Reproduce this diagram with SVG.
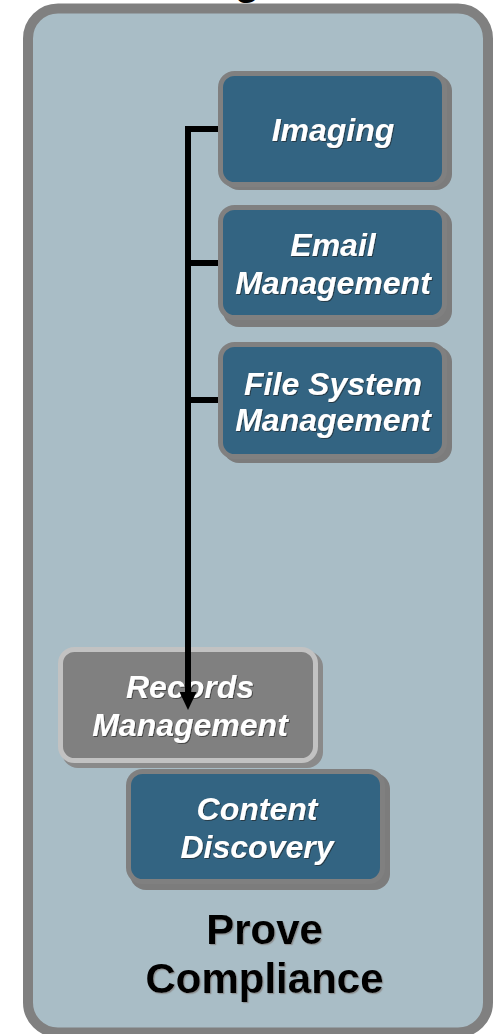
<svg xmlns="http://www.w3.org/2000/svg" width="497" height="1034" viewBox="0 0 497 1034">
  <defs>
    <style>
      .lbl { font-family: "Liberation Sans", Arial, sans-serif; font-weight: bold; font-style: italic; font-size: 32px; fill: #ffffff; text-anchor: middle; }
      .title { font-family: "Liberation Sans", Arial, sans-serif; font-weight: bold; font-size: 42px; fill: #000000; text-anchor: middle; }
      .node { fill: #336482; stroke: #808080; stroke-width: 5; }
      .shadow { fill: #7c7c7c; }
      .conn { fill: none; stroke: #000000; stroke-width: 6; }
    </style>
    <filter id="ts" x="-10%" y="-20%" width="120%" height="140%">
      <feDropShadow dx="1" dy="1" stdDeviation="0.6" flood-color="#222222" flood-opacity="0.6"/>
    </filter>
    <filter id="ts2" x="-10%" y="-20%" width="120%" height="140%">
      <feDropShadow dx="1.2" dy="1.2" stdDeviation="0.5" flood-color="#888888" flood-opacity="0.8"/>
    </filter>
  </defs>

  <text class="title" x="247" y="-6" font-size="48">g</text>

  <g id="container">
    <rect x="28" y="8.5" width="460" height="1024" rx="30" fill="#A9BDC6" stroke="#808080" stroke-width="10"/>
    <g filter="url(#ts2)">
      <text class="title" x="264.5" y="944">Prove</text>
      <text class="title" x="264.5" y="993">Compliance</text>
    </g>
  </g>

  <g id="imaging">
    <rect class="shadow" x="223" y="75" width="229" height="115" rx="16"/>
    <rect class="node" x="220.5" y="73.5" width="224" height="111" rx="14"/>
    <text class="lbl" x="333" y="141" filter="url(#ts)">Imaging</text>
  </g>

  <g id="email">
    <rect class="shadow" x="223" y="209" width="229" height="118" rx="16"/>
    <rect class="node" x="220.5" y="207.5" width="224" height="110" rx="14"/>
    <g filter="url(#ts)">
      <text class="lbl" x="333" y="256">Email</text>
      <text class="lbl" x="333" y="294">Management</text>
    </g>
  </g>

  <g id="filesystem">
    <rect class="shadow" x="223" y="346" width="229" height="117" rx="16"/>
    <rect class="node" x="220.5" y="344.5" width="224" height="112" rx="14"/>
    <g filter="url(#ts)">
      <text class="lbl" x="333" y="395">File System</text>
      <text class="lbl" x="333" y="431">Management</text>
    </g>
  </g>

  <g id="records">
    <rect fill="#8a8a8a" x="62" y="651" width="261" height="117" rx="16"/>
    <rect fill="#808080" stroke="#C2C2C2" stroke-width="5" x="60.5" y="649.5" width="255" height="111" rx="14"/>
    <g filter="url(#ts)">
      <text class="lbl" x="190" y="698">Records</text>
      <text class="lbl" x="190" y="736">Management</text>
    </g>
  </g>

  <g id="content">
    <rect class="shadow" x="130" y="773" width="260" height="117" rx="16"/>
    <rect class="node" x="128.5" y="771.5" width="254" height="110" rx="14"/>
    <g filter="url(#ts)">
      <text class="lbl" x="257" y="820">Content</text>
      <text class="lbl" x="257" y="858">Discovery</text>
    </g>
  </g>

  <g id="connectors">
    <path class="conn" d="M218 129 H188 V694"/>
    <path class="conn" d="M188 263 H218"/>
    <path class="conn" d="M188 400 H218"/>
    <polygon points="179.5,692 196.5,692 188,710" fill="#000000"/>
  </g>
</svg>
